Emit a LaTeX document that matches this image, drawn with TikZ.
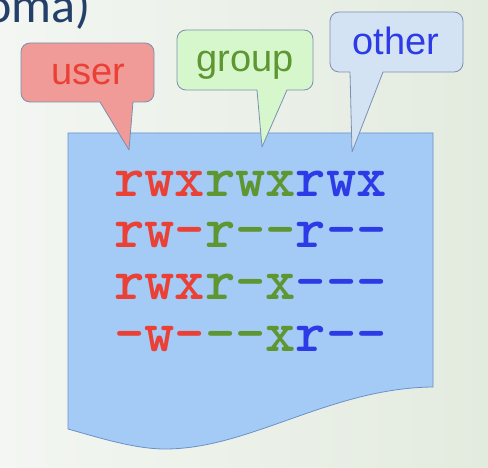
\documentclass[tikz,border=0pt]{standalone}
\usepackage{fontspec}
\setmainfont{Liberation Sans}
\newfontfamily\titlefnt{Carlito}
\definecolor{bgA}{HTML}{F3F6F2}
\definecolor{bgB}{HTML}{E3EBDF}
\definecolor{titlecol}{HTML}{24406A}
\definecolor{docfill}{HTML}{A4CAF6}
\definecolor{docline}{HTML}{6C91C9}
\definecolor{userfill}{HTML}{F09B97}
\definecolor{groupfill}{HTML}{D6F7CC}
\definecolor{otherfill}{HTML}{D3E3F3}
\definecolor{calline}{HTML}{7C8FB2}
\definecolor{pred}{HTML}{EA4036}
\definecolor{pgreen}{HTML}{5E9632}
\definecolor{pblue}{HTML}{2D3BE6}
\begin{document}
\begin{tikzpicture}[x=1pt,y=-1pt,
  callout/.style={draw=calline, line width=0.8pt, line join=round},
  calltext/.style={font=\fontsize{38}{40}\selectfont, inner sep=0pt, anchor=base},
  permrow/.style={font=\ttfamily\bfseries\fontsize{57.7}{60}\selectfont, inner sep=0pt, text height=26pt, text depth=0pt, anchor=base west}]
\useasboundingbox (0,0) rectangle (488,468);
\clip (0,0) rectangle (488,468);
\shade[left color=bgA, right color=bgB] (0,0) rectangle (488,468);
% title fragment
\node[anchor=base east, font=\titlefnt\fontsize{50}{50}\selectfont, text=titlecol, inner sep=0pt] (title) at (91,23) {oma)};
% document shape
\draw[fill=docfill, draw=docline, line width=0.8pt] (68,133) -- (433,133) -- (433,387)
  .. controls (330,388) and (250,449) .. (165,449)
  .. controls (135,449) and (100,438) .. (68,429) -- cycle;
% callouts
\draw[callout, fill=userfill] (100,102) [rounded corners=9] -- (21,102) -- (21,43) -- (154,43) -- (154,102) [sharp corners] -- (133,102) -- (129,150) -- cycle;
\draw[callout, fill=groupfill] (257,90) [rounded corners=9] -- (177,90) -- (177,30) -- (313,30) -- (313,90) [sharp corners] -- (287,90) -- (262,147) -- cycle;
\draw[callout, fill=otherfill] (350,72) [rounded corners=9] -- (330,72) -- (330,12) -- (463,12) -- (463,72) [sharp corners] -- (383,72) -- (352,152) -- cycle;
\node[calltext, text=pred] (user) at (88,85) {user};
\node[calltext, text=pgreen] (group) at (245,72) {group};
\node[calltext, text=pblue] (other) at (396,55) {other};
% permission rows
\node[permrow] (r1) at (114,197) {\textcolor{pred}{rwx}\textcolor{pgreen}{rwx}\textcolor{pblue}{rwx}};
\node[permrow] (r2) at (114,248) {\textcolor{pred}{rw-}\textcolor{pgreen}{r--}\textcolor{pblue}{r--}};
\node[permrow] (r3) at (114,300) {\textcolor{pred}{rwx}\textcolor{pgreen}{r-x}\textcolor{pblue}{---}};
\node[permrow] (r4) at (114,352) {\textcolor{pred}{-w-}\textcolor{pgreen}{--x}\textcolor{pblue}{r--}};
\end{tikzpicture}
\end{document}
